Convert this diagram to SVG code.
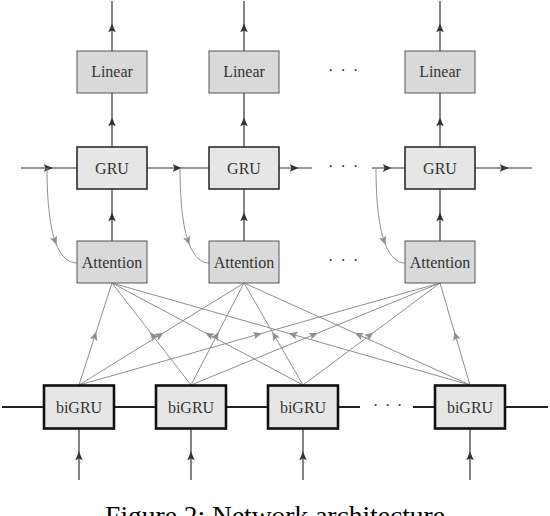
<svg xmlns="http://www.w3.org/2000/svg" width="550" height="516" viewBox="0 0 550 516">
<style>
.lin{fill:#d9d9d9;stroke:#555;stroke-width:1}
.gru{fill:#e6e6e6;stroke:#222;stroke-width:1.5}
.att{fill:#d9d9d9;stroke:#555;stroke-width:1}
.bi{fill:#e6e6e6;stroke:#111;stroke-width:2.6}
.t{font-family:"Liberation Serif","Times New Roman",serif;font-size:16px;fill:#333;text-anchor:middle}
.dk{fill:none;stroke:#333;stroke-width:1.2;marker-mid:url(#ad)}
.gr{fill:none;stroke:#8f8f8f;stroke-width:1;marker-mid:url(#ag)}
.th{fill:none;stroke:#222;stroke-width:2}
.dots{font-family:"Liberation Serif","Times New Roman",serif;font-size:16px;fill:#333}
.cap{font-family:"Liberation Serif","Times New Roman",serif;font-size:27.5px;fill:#000}
</style>
<defs>
<marker id="ad" markerUnits="userSpaceOnUse" markerWidth="10" markerHeight="8" refX="5" refY="3" orient="auto" viewBox="0 0 8 6">
<path d="M0,0 L7,3 L0,6 L1.5,3 z" fill="#333"/>
</marker>
<marker id="ag" markerUnits="userSpaceOnUse" markerWidth="10" markerHeight="8" refX="5" refY="3" orient="auto" viewBox="0 0 8 6">
<path d="M0,0 L7,3 L0,6 L1.5,3 z" fill="#8f8f8f"/>
</marker>
</defs>
<g id="connectors">
<path class="dk" d="M112,51 L112,26 L112,1"/>
<path class="dk" d="M244,51 L244,26 L244,1"/>
<path class="dk" d="M440,51 L440,26 L440,1"/>
<path class="dk" d="M112,147 L112,120 L112,93"/>
<path class="dk" d="M244,147 L244,120 L244,93"/>
<path class="dk" d="M440,147 L440,120 L440,93"/>
<path class="dk" d="M112,241 L112,215 L112,189"/>
<path class="dk" d="M244,241 L244,215 L244,189"/>
<path class="dk" d="M440,241 L440,215 L440,189"/>
<path class="dk" d="M21,168 L50,168 L77,168"/>
<path class="dk" d="M147,168 L179,168 L209,168"/>
<path class="dk" d="M279,168 L296,168 L312,168"/>
<path class="dk" d="M372,168 L389,168 L405,168"/>
<path class="dk" d="M475,168 L506,168 L532,168"/>
<path class="gr" d="M47,168 C47,204 50.25,227.75 55.6,242.5 C61,257.25 68.5,263 77,263"/>
<path class="gr" d="M180,168 C180,204 183.25,227.75 188.6,242.5 C194,257.25 201.5,263 209,263"/>
<path class="gr" d="M376,168 C376,204 379.25,227.75 384.6,242.5 C390,257.25 397.5,263 405,263"/>
<path class="gr" d="M79,385 L95.5,334 L112,283"/>
<path class="gr" d="M79,385 L161.5,334 L244,283"/>
<path class="gr" d="M79,385 L259.5,334 L440,283"/>
<path class="gr" d="M191,385 L151.5,334 L112,283"/>
<path class="gr" d="M191,385 L217.5,334 L244,283"/>
<path class="gr" d="M191,385 L315.5,334 L440,283"/>
<path class="gr" d="M303,385 L207.5,334 L112,283"/>
<path class="gr" d="M303,385 L273.5,334 L244,283"/>
<path class="gr" d="M303,385 L371.5,334 L440,283"/>
<path class="gr" d="M470,385 L291,334 L112,283"/>
<path class="gr" d="M470,385 L357,334 L244,283"/>
<path class="gr" d="M470,385 L455,334 L440,283"/>
<path class="th" d="M2,407 H44 M114,407 H156 M226,407 H268 M338,407 H360 M413,407 H435 M505,407 H548"/>
<path class="dk" d="M79,480 L79,454 L79,428"/>
<path class="dk" d="M191,480 L191,454 L191,428"/>
<path class="dk" d="M303,480 L303,454 L303,428"/>
<path class="dk" d="M470,480 L470,454 L470,428"/>
</g>
<g id="linear1"><rect class="lin" x="77" y="51" width="70" height="42"/><text class="t" x="112" y="77">Linear</text></g>
<g id="linear2"><rect class="lin" x="209" y="51" width="70" height="42"/><text class="t" x="244" y="77">Linear</text></g>
<g id="linear3"><rect class="lin" x="405" y="51" width="70" height="42"/><text class="t" x="440" y="77">Linear</text></g>
<g id="gru1"><rect class="gru" x="77" y="147" width="70" height="42"/><text class="t" x="112" y="173.5">GRU</text></g>
<g id="gru2"><rect class="gru" x="209" y="147" width="70" height="42"/><text class="t" x="244" y="173.5">GRU</text></g>
<g id="gru3"><rect class="gru" x="405" y="147" width="70" height="42"/><text class="t" x="440" y="173.5">GRU</text></g>
<g id="att1"><rect class="att" x="77" y="241" width="70" height="42"/><text class="t" x="112" y="267.5">Attention</text></g>
<g id="att2"><rect class="att" x="209" y="241" width="70" height="42"/><text class="t" x="244" y="267.5">Attention</text></g>
<g id="att3"><rect class="att" x="405" y="241" width="70" height="42"/><text class="t" x="440" y="267.5">Attention</text></g>
<g id="bigru1"><rect class="bi" x="44" y="385.5" width="70" height="43"/><text class="t" x="79" y="412.5">biGRU</text></g>
<g id="bigru2"><rect class="bi" x="156" y="385.5" width="70" height="43"/><text class="t" x="191" y="412.5">biGRU</text></g>
<g id="bigru3"><rect class="bi" x="268" y="385.5" width="70" height="43"/><text class="t" x="303" y="412.5">biGRU</text></g>
<g id="bigru4"><rect class="bi" x="435" y="385.5" width="70" height="43"/><text class="t" x="470" y="412.5">biGRU</text></g>
<g id="ellipses">
<text class="dots" x="328 340.5 353" y="76">···</text>
<text class="dots" x="328 340.5 353" y="172">···</text>
<text class="dots" x="328 340.5 353" y="266">···</text>
<text class="dots" x="373 385 397" y="411">···</text>
</g>
<text class="cap" x="275" y="525" text-anchor="middle">Figure 2: Network architecture</text>
</svg>
